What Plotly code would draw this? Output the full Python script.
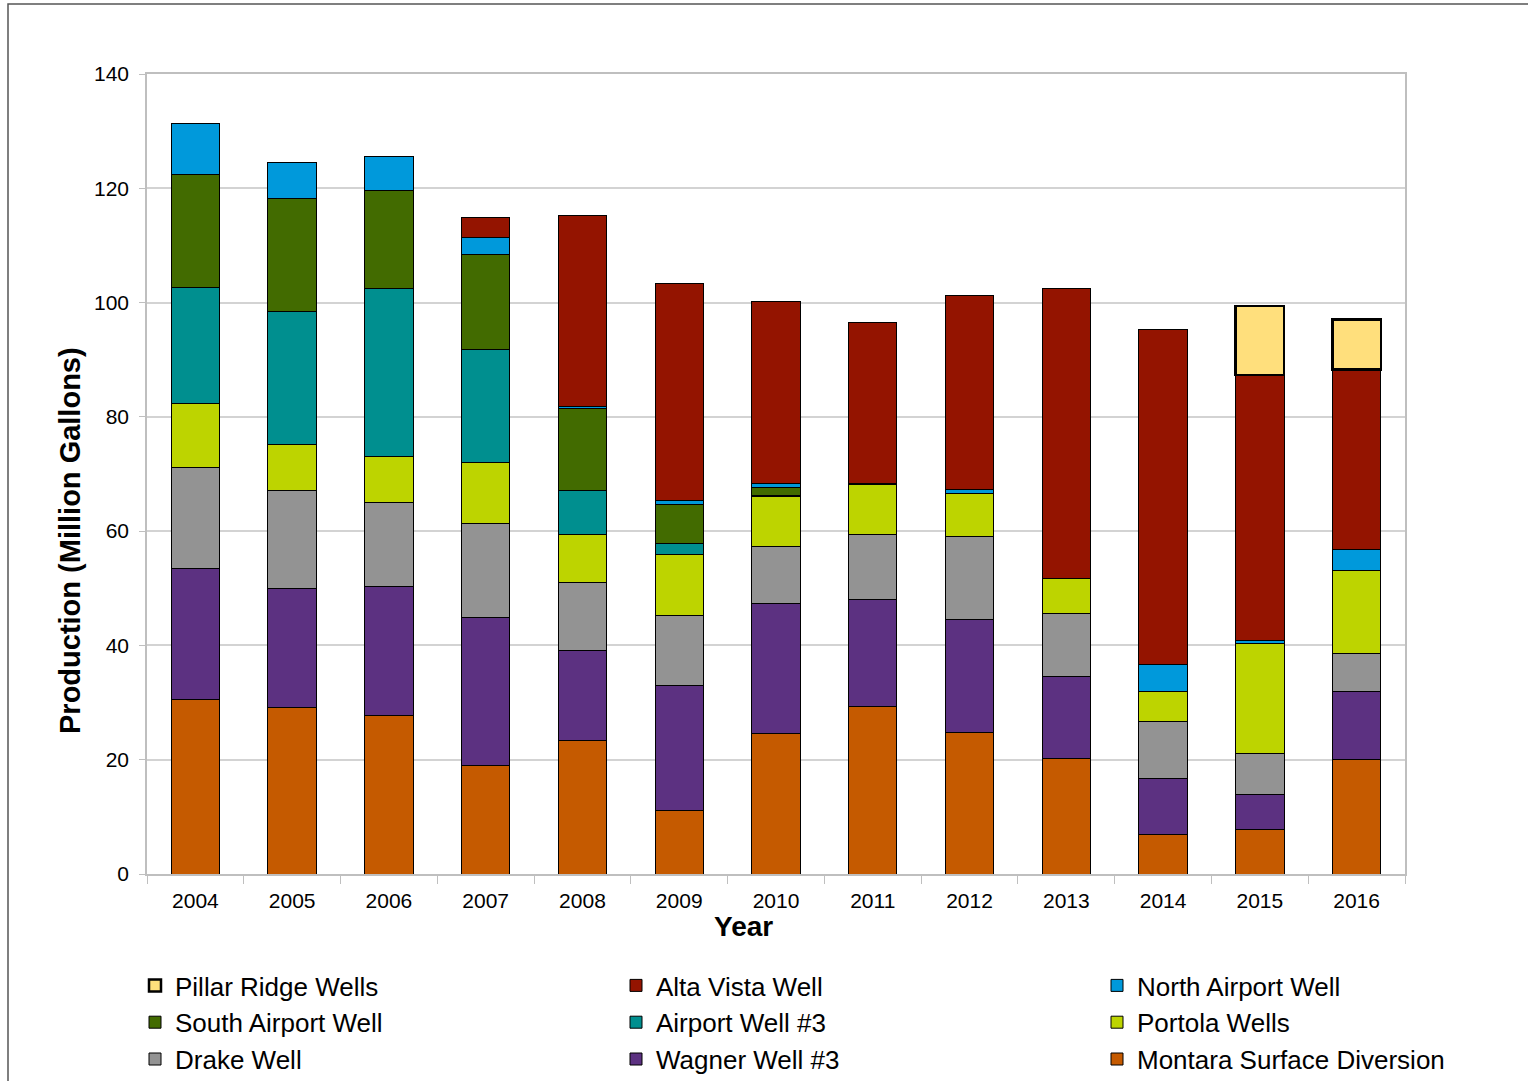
import plotly.graph_objects as go

# Annual production by source, million gallons
years = ["2004", "2005", "2006", "2007", "2008", "2009", "2010",
         "2011", "2012", "2013", "2014", "2015", "2016"]

montara_surface = [30.6, 29.2, 27.8, 19.0, 23.3, 11.2, 24.6, 29.35, 24.8, 20.25, 6.95, 7.75, 20.05]
wagner_well_3 = [22.8, 20.85, 22.6, 25.9, 15.9, 21.75, 22.8, 18.75, 19.8, 14.25, 9.85, 6.25, 11.85]
drake_well = [17.7, 17.15, 14.65, 16.5, 11.9, 12.35, 9.9, 11.4, 14.55, 11.1, 9.85, 7.1, 6.7]
portola_wells = [11.2, 8.05, 7.95, 10.65, 8.4, 10.7, 8.85, 8.6, 7.45, 6.15, 5.25, 19.2, 14.5]
airport_well_3 = [20.35, 23.15, 29.4, 19.7, 7.7, 1.9, 0.1, 0, 0, 0, 0, 0, 0]
south_airport = [19.7, 19.9, 17.3, 16.75, 14.2, 6.7, 1.45, 0, 0, 0, 0, 0, 0]
north_airport = [8.95, 6.2, 5.8, 2.95, 0.4, 0.85, 0.7, 0.3, 0.7, 0, 4.7, 0.65, 3.7]
alta_vista = [0, 0, 0, 3.45, 33.4, 37.85, 31.75, 28.1, 34.0, 50.65, 58.7, 46.35, 31.5]
pillar_ridge = [0, 0, 0, 0, 0, 0, 0, 0, 0, 0, 0, 12.1, 8.75]

# Stacked bottom-to-top: (name, values, fill, outline width, legend column)
series = [
    ("Montara Surface Diversion", montara_surface, "#C55A00", 1, "legend3"),
    ("Wagner Well #3", wagner_well_3, "#5C3181", 1, "legend2"),
    ("Drake Well", drake_well, "#939393", 1, "legend"),
    ("Portola Wells", portola_wells, "#BDD400", 1, "legend3"),
    ("Airport Well #3", airport_well_3, "#008F8F", 1, "legend2"),
    ("South Airport Well", south_airport, "#426B00", 1, "legend"),
    ("North Airport Well", north_airport, "#0099DB", 1, "legend3"),
    ("Alta Vista Well", alta_vista, "#941400", 1, "legend2"),
    ("Pillar Ridge Wells", pillar_ridge, "#FFDF7C", 2.5, "legend"),
]

fig = go.Figure()
for name, vals, color, lw, leg in series:
    fig.add_trace(go.Bar(
        name=name, x=years,
        y=[v if v else None for v in vals],  # skip empty segments
        marker=dict(color=color, line=dict(color="#000000", width=lw)),
        legend=leg,
    ))

FONT = "Liberation Sans, Arial, sans-serif"
L, R, T, B = 147, 123, 74, 207
W, H = 1528, 1081
pw, ph = W - L - R, H - T - B


def px_x(x):
    return (x - L) / pw


def px_y(y):
    return (T + ph - y) / ph


legend_style = dict(
    orientation="v", traceorder="reversed",
    xanchor="left", yanchor="top", y=px_y(962),
    font=dict(size=26, family=FONT, color="#000000"),
    itemwidth=30, tracegroupgap=0, bgcolor="rgba(0,0,0,0)",
)

fig.update_layout(
    width=W, height=H,
    barmode="stack", bargap=0.5,
    margin=dict(l=L, r=R, t=T, b=B, autoexpand=False),
    paper_bgcolor="white", plot_bgcolor="white",
    font=dict(family=FONT, size=21, color="#000000"),
    xaxis=dict(
        type="category",
        showline=True, linecolor="#BFBFBF", linewidth=1.5, mirror=True,
        ticks="outside", tickson="boundaries", ticklen=8, tickcolor="#BFBFBF",
        tickfont=dict(size=21), ticklabelstandoff=7,
        automargin=False,
    ),
    yaxis=dict(
        range=[0, 140], dtick=20,
        showgrid=True, gridcolor="#D3D3D3", gridwidth=1.5,
        showline=True, linecolor="#BFBFBF", linewidth=1.5, mirror=True,
        ticks="outside", ticklen=6, tickcolor="#BFBFBF",
        tickfont=dict(size=21), ticklabelstandoff=6,
        automargin=False,
    ),
    legend=dict(legend_style, x=px_x(135)),
    legend2=dict(legend_style, x=px_x(616)),
    legend3=dict(legend_style, x=px_x(1097)),
    annotations=[
        dict(text="<b>Year</b>", xref="paper", yref="paper",
             x=px_x(743), y=px_y(927), xanchor="center", yanchor="middle",
             showarrow=False, font=dict(size=28)),
        dict(text="<b>Production (Million Gallons)</b>", xref="paper", yref="paper",
             x=px_x(70), y=px_y(541), xanchor="center", yanchor="middle",
             textangle=-90, showarrow=False, font=dict(size=29)),
    ],
    shapes=[dict(
        type="rect", xref="paper", yref="paper",
        x0=px_x(8), x1=px_x(W + 20),
        y0=px_y(H + 20), y1=px_y(4),
        line=dict(color="#555555", width=1.5), fillcolor="rgba(0,0,0,0)",
        layer="below",
    )],
)

fig.write_html("out.html")
